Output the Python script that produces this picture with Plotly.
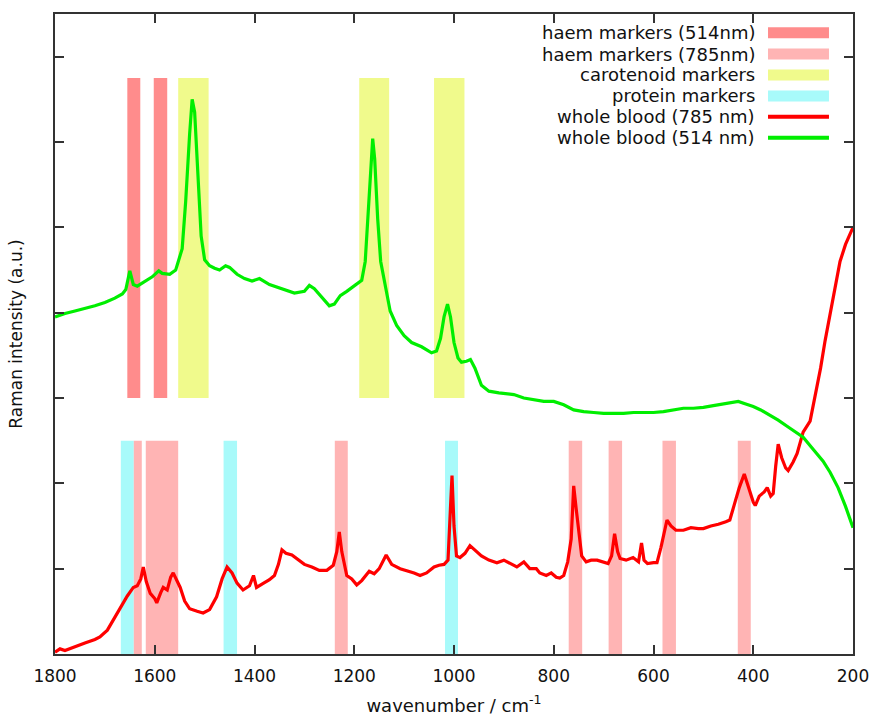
import plotly.graph_objects as go

# ---------------- data ----------------
wn_514 = [1800, 1780, 1760, 1740, 1720, 1700, 1680, 1665, 1658, 1650, 1643, 1635, 1620, 1605,
          1592, 1585, 1570, 1558, 1545, 1538, 1530, 1525, 1520, 1514, 1507, 1500, 1490, 1480,
          1470, 1458, 1450, 1435, 1420, 1405, 1390, 1370, 1345, 1320, 1300, 1290, 1280, 1265,
          1250, 1240, 1228, 1215, 1200, 1185, 1178, 1172, 1166, 1163, 1159, 1153, 1147, 1138,
          1128, 1115, 1100, 1085, 1065, 1045, 1035, 1027, 1020, 1013, 1007, 1000, 992, 985,
          975, 967, 958, 945, 930, 910, 895, 880, 860, 840, 820, 800, 780, 760, 740, 720, 700,
          680, 660, 640, 620, 600, 580, 560, 540, 520, 500, 480, 460, 440, 430, 415, 400, 385,
          370, 350, 330, 310, 300, 280, 260, 246, 230, 215, 200]
int_514 = [3.95, 3.99, 4.02, 4.05, 4.08, 4.12, 4.17, 4.22, 4.27, 4.49, 4.33, 4.31, 4.36, 4.42,
           4.49, 4.46, 4.45, 4.50, 4.75, 5.30, 6.10, 6.50, 6.35, 5.60, 4.90, 4.62, 4.55, 4.52,
           4.50, 4.55, 4.53, 4.45, 4.40, 4.37, 4.40, 4.33, 4.28, 4.23, 4.25, 4.32, 4.28, 4.18,
           4.08, 4.10, 4.20, 4.25, 4.32, 4.38, 4.60, 5.20, 5.90, 6.04, 5.80, 5.10, 4.60, 4.30,
           4.02, 3.85, 3.73, 3.65, 3.60, 3.53, 3.55, 3.70, 3.95, 4.10, 3.95, 3.65, 3.47, 3.42,
           3.43, 3.45, 3.35, 3.15, 3.08, 3.06, 3.05, 3.04, 3.00, 2.98, 2.96, 2.96, 2.92, 2.86,
           2.84, 2.83, 2.82, 2.82, 2.82, 2.83, 2.83, 2.83, 2.84, 2.86, 2.88, 2.88, 2.89, 2.91,
           2.93, 2.95, 2.96, 2.93, 2.90, 2.86, 2.81, 2.74, 2.66, 2.58, 2.54, 2.40, 2.26, 2.13,
           1.95, 1.73, 1.48]

wn_785 = [1800, 1790, 1780, 1764, 1740, 1720, 1710, 1695, 1683, 1672, 1663, 1655, 1643, 1635,
          1628, 1623, 1617, 1609, 1600, 1596, 1588, 1583, 1575, 1568, 1563, 1555, 1549, 1540,
          1530, 1515, 1503, 1490, 1476, 1465, 1455, 1445, 1435, 1423, 1410, 1402, 1396, 1385,
          1370, 1360, 1352, 1345, 1337, 1325, 1315, 1300, 1285, 1270, 1255, 1242, 1235, 1230,
          1225, 1215, 1205, 1195, 1185, 1170, 1160, 1150, 1136, 1125, 1108, 1095, 1080, 1068,
          1055, 1040, 1030, 1020, 1012, 1008, 1004, 1000, 995, 988, 978, 968, 958, 945, 930,
          914, 900, 885, 874, 860, 848, 835, 828, 815, 805, 795, 788, 780, 772, 765, 760, 755,
          750, 744, 735, 725, 713, 700, 691, 684, 678, 672, 667, 655, 641, 630, 624, 619, 612,
          600, 593, 585, 578, 573, 565, 555, 540, 525, 510, 500, 485, 470, 455, 447, 438, 428,
          418, 410, 400, 396, 388, 378, 372, 365, 360, 355, 350, 343, 335, 330, 320, 312, 305,
          300, 286, 276, 265, 256, 245, 235, 226, 215, 207, 200]
int_785 = [0.02, 0.06, 0.04, 0.08, 0.13, 0.17, 0.20, 0.28, 0.40, 0.50, 0.60, 0.68, 0.78, 0.80,
           0.88, 1.02, 0.85, 0.71, 0.65, 0.60, 0.72, 0.78, 0.75, 0.90, 0.95, 0.85, 0.78, 0.62,
           0.53, 0.50, 0.48, 0.52, 0.67, 0.88, 1.02, 0.95, 0.83, 0.75, 0.80, 0.92, 0.78, 0.82,
           0.87, 0.92, 1.05, 1.22, 1.18, 1.16, 1.12, 1.05, 1.02, 0.98, 0.98, 1.04, 1.20, 1.43,
           1.20, 0.92, 0.88, 0.81, 0.86, 0.97, 0.94, 1.00, 1.16, 1.05, 1.00, 0.98, 0.95, 0.92,
           0.95, 1.02, 1.04, 1.05, 1.10, 1.60, 2.09, 1.50, 1.15, 1.13, 1.18, 1.27, 1.22, 1.15,
           1.10, 1.07, 1.10, 1.05, 1.02, 1.08, 1.00, 1.00, 0.95, 0.92, 0.95, 0.90, 0.89, 0.92,
           1.08, 1.35, 1.97, 1.70, 1.45, 1.15, 1.08, 1.10, 1.10, 1.08, 1.06, 1.15, 1.41, 1.20,
           1.12, 1.10, 1.13, 1.08, 1.30, 1.10, 1.06, 1.07, 1.07, 1.25, 1.45, 1.57, 1.50, 1.45,
           1.45, 1.48, 1.47, 1.47, 1.50, 1.52, 1.55, 1.57, 1.75, 1.95, 2.11, 1.95, 1.78, 1.74,
           1.85, 1.90, 1.95, 1.85, 1.88, 2.20, 2.46, 2.30, 2.18, 2.15, 2.25, 2.35, 2.48, 2.60,
           2.73, 3.03, 3.35, 3.67, 4.00, 4.30, 4.60, 4.80, 4.90, 5.00]

# marker bands (start, end wavenumber)
haem514_bands = [(1655, 1629), (1602, 1575)]
carotenoid_bands = [(1553, 1492), (1190, 1130), (1040, 979)]
protein_bands = [(1668, 1642), (1462, 1435), (1018, 992)]
haem785_bands = [(1642, 1626), (1618, 1553), (1239, 1213), (770, 743), (690, 663),
                 (582, 555), (431, 405)]
upper_band_span = (3.0, 6.75)
lower_band_span = (0.0, 2.5)

x_ticks = [1800, 1600, 1400, 1200, 1000, 800, 600, 400, 200]
y_ticks = [0, 1, 2, 3, 4, 5, 6, 7]

legend_labels = ["haem markers (514nm)", "haem markers (785nm)", "carotenoid markers",
                 "protein markers", "whole blood (785 nm)", "whole blood (514 nm)"]

# ---------------- styles ----------------
C_HAEM514 = "#ff8c8c"
C_HAEM785 = "#ffb4b4"
C_CAROT = "#f0fa8c"
C_PROT = "#a8fafa"
C_RED = "#ff0000"
C_GREEN = "#00ee00"
FONT = "DejaVu Sans"

fig = go.Figure()

shapes = []
def add_bands(bands, span, color):
    for a, b in bands:
        shapes.append(dict(type="rect", xref="x", yref="y", x0=a, x1=b, y0=span[0], y1=span[1],
                           fillcolor=color, line=dict(width=0), layer="below"))

add_bands(haem514_bands, upper_band_span, C_HAEM514)
add_bands(carotenoid_bands, upper_band_span, C_CAROT)
add_bands(protein_bands, lower_band_span, C_PROT)
add_bands(haem785_bands, lower_band_span, C_HAEM785)

fig.add_trace(go.Scatter(x=wn_785, y=int_785, mode="lines", name=legend_labels[4],
                         line=dict(color=C_RED, width=3.2), showlegend=False))
fig.add_trace(go.Scatter(x=wn_514, y=int_514, mode="lines", name=legend_labels[5],
                         line=dict(color=C_GREEN, width=3.2), showlegend=False))

# legend built as annotations + samples (text left of sample, as in the reference)
leg_colors = [C_HAEM514, C_HAEM785, C_CAROT, C_PROT, C_RED, C_GREEN]
leg_kind = ["box", "box", "box", "box", "line", "line"]
leg_y = [0.9708, 0.9375, 0.9047, 0.8719, 0.8395, 0.8067]
annotations = []
for lab, col, kind, yy in zip(legend_labels, leg_colors, leg_kind, leg_y):
    annotations.append(dict(xref="paper", yref="paper", x=0.8797, y=yy, text=lab,
                            showarrow=False, xanchor="right", yanchor="middle",
                            font=dict(family=FONT, size=18, color="#111")))
    if kind == "box":
        shapes.append(dict(type="rect", xref="paper", yref="paper", x0=0.8935, x1=0.9699,
                           y0=yy - 0.0086, y1=yy + 0.0086, fillcolor=col, line=dict(width=0)))
    else:
        shapes.append(dict(type="line", xref="paper", yref="paper", x0=0.8935, x1=0.9699,
                           y0=yy, y1=yy, line=dict(color=col, width=4)))

axis_common = dict(showline=True, linecolor="#333", linewidth=1.5, mirror="ticks",
                   ticks="inside", ticklen=9, tickwidth=1.5, tickcolor="#333",
                   showgrid=False, zeroline=False)

fig.update_layout(
    width=877, height=716,
    margin=dict(l=55, r=24, t=14, b=62, autoexpand=False),
    paper_bgcolor="white", plot_bgcolor="white",
    shapes=shapes, annotations=annotations,
    showlegend=False,
    xaxis=dict(range=[1800, 200], tickvals=x_ticks,
               tickfont=dict(family=FONT, size=17, color="#111"),
               title=dict(text="wavenumber / cm<sup>-1</sup>", standoff=21,
                          font=dict(family=FONT, size=18, color="#111")),
               ticklabelstandoff=6, **axis_common),
    yaxis=dict(range=[0, 7.5], tickvals=y_ticks, showticklabels=False,
               title=dict(text="Raman intensity (a.u.)", standoff=26,
                          font=dict(family=FONT, size=17, color="#111")),
               **axis_common),
)

fig.write_html("out.html")
